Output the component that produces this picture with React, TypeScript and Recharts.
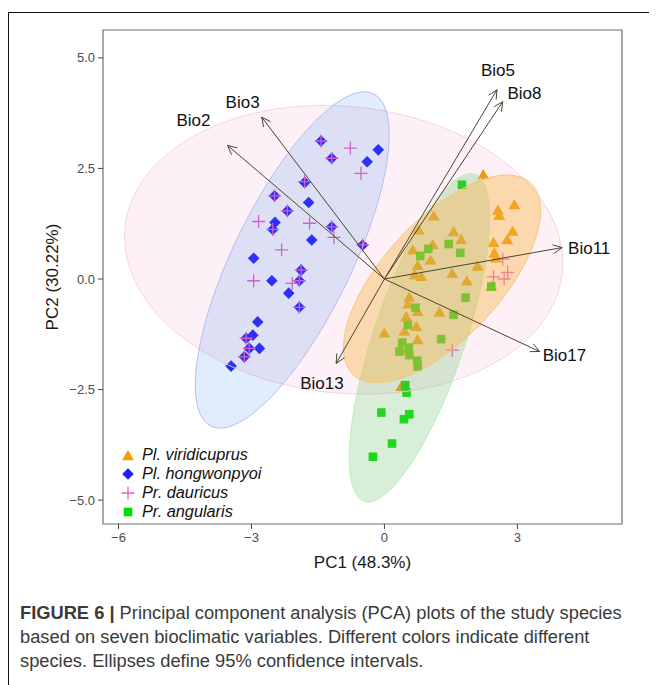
import React from 'react';
import { ScatterChart, Scatter, XAxis, YAxis, ReferenceArea } from 'recharts';

// PCA scores (PC1, PC2)
const viridicuprus = [
  { x: 2.23, y: 2.35 }, { x: 1.11, y: 1.42 }, { x: 2.56, y: 1.55 }, { x: 2.59, y: 1.43 },
  { x: 2.93, y: 1.67 }, { x: 0.77, y: 1.1 }, { x: 1.56, y: 1.06 }, { x: 1.73, y: 0.88 },
  { x: 2.89, y: 1.07 }, { x: 2.77, y: 0.88 }, { x: 2.46, y: 0.82 }, { x: 0.64, y: 0.65 },
  { x: 1.09, y: 0.77 }, { x: 1.04, y: 0.42 }, { x: 2.48, y: 0.58 }, { x: 2.52, y: 0.47 },
  { x: 0.75, y: 0.3 }, { x: 0.83, y: 0.05 }, { x: 0.68, y: 0.09 }, { x: 1.53, y: 0.12 },
  { x: 2.1, y: 0.28 }, { x: 1.86, y: -0.05 }, { x: 2.41, y: -0.17 }, { x: 0.56, y: -0.42 },
  { x: 0.53, y: -0.57 }, { x: 0.75, y: -0.74 }, { x: 1.24, y: -0.76 }, { x: 0.49, y: -0.86 },
  { x: 0.72, y: -1.08 }, { x: 0.0, y: -1.23 }, { x: 0.45, y: -1.19 }, { x: 0.75, y: -1.38 },
  { x: 0.38, y: -1.61 }, { x: 0.38, y: -2.44 },
];

const hongwonpyoi = [
  { x: -1.43, y: 3.12 }, { x: -1.19, y: 2.73 }, { x: -0.39, y: 2.65 }, { x: -0.14, y: 2.92 },
  { x: -1.8, y: 2.18 }, { x: -1.71, y: 1.73 }, { x: -2.48, y: 1.88 }, { x: -2.19, y: 1.54 },
  { x: -2.47, y: 1.28 }, { x: -2.52, y: 1.12 }, { x: -1.64, y: 0.88 }, { x: -1.19, y: 1.18 },
  { x: -0.49, y: 0.77 }, { x: -2.95, y: 0.47 }, { x: -2.54, y: -0.04 }, { x: -1.92, y: -0.04 },
  { x: -1.88, y: 0.2 }, { x: -2.16, y: -0.32 }, { x: -1.92, y: -0.64 }, { x: -2.86, y: -0.97 },
  { x: -2.97, y: -1.27 }, { x: -3.12, y: -1.34 }, { x: -3.05, y: -1.57 }, { x: -2.82, y: -1.57 },
  { x: -3.16, y: -1.76 }, { x: -3.46, y: -1.97 },
];

const dauricus = [
  { x: -1.43, y: 3.12 }, { x: -1.19, y: 2.73 }, { x: -1.8, y: 2.2 }, { x: -2.48, y: 1.88 },
  { x: -2.19, y: 1.54 }, { x: -2.52, y: 1.12 }, { x: -1.19, y: 1.18 }, { x: -0.49, y: 0.77 },
  { x: -1.92, y: -0.04 }, { x: -1.88, y: 0.2 }, { x: -1.92, y: -0.64 }, { x: -3.12, y: -1.34 },
  { x: -3.05, y: -1.57 }, { x: -3.16, y: -1.76 },
  { x: -0.77, y: 2.96 }, { x: -0.53, y: 2.39 }, { x: -2.84, y: 1.3 }, { x: -1.69, y: 1.26 },
  { x: -1.14, y: 0.94 }, { x: -2.32, y: 0.66 }, { x: -2.95, y: -0.04 }, { x: -2.08, y: -0.1 },
  { x: 2.67, y: 0.45 }, { x: 2.46, y: 0.05 }, { x: 2.78, y: 0.15 }, { x: 2.7, y: 0.0 },
  { x: 1.53, y: -1.61 },
];

const angularis = [
  { x: 1.75, y: 2.13 }, { x: 1.45, y: 0.79 }, { x: 0.99, y: 0.68 }, { x: 0.81, y: 0.52 },
  { x: 1.71, y: 0.59 }, { x: 2.41, y: -0.17 }, { x: 1.83, y: -0.42 }, { x: 0.7, y: -0.65 },
  { x: 1.56, y: -0.81 }, { x: 0.53, y: -1.04 }, { x: 1.28, y: -1.36 }, { x: 0.4, y: -1.44 },
  { x: 0.55, y: -1.55 }, { x: 0.34, y: -1.64 }, { x: 0.56, y: -1.72 }, { x: 0.74, y: -1.85 },
  { x: 0.75, y: -1.98 }, { x: 0.47, y: -2.4 }, { x: 0.5, y: -2.57 }, { x: -0.07, y: -3.02 },
  { x: 0.56, y: -3.06 }, { x: 0.44, y: -3.17 }, { x: 0.17, y: -3.72 }, { x: -0.26, y: -4.02 },
];

// 95% ellipses: centre, semi-axes and tilt (degrees)
const ellipseDauricus = { cx: -0.92, cy: 0.66, a: 4.96, b: 3.24, angle: -6 };
const ellipseHongwonpyoi = { cx: -2.08, cy: 0.43, a: 4.18, b: 1.33, angle: 64 };
const ellipseAngularis = { cx: 0.79, cy: -1.33, a: 3.9, b: 1.03, angle: 71.4 };
const ellipseViridicuprus = { cx: 1.3, cy: 0.0, a: 2.95, b: 1.33, angle: 47.4 };

// loading arrows (tips) and their label positions
const variables = ['Bio2', 'Bio3', 'Bio5', 'Bio8', 'Bio11', 'Bio13', 'Bio17'];
const arrowTips = [
  { x: -3.54, y: 3.02 }, { x: -2.77, y: 3.66 }, { x: 2.54, y: 4.28 }, { x: 2.67, y: 4.01 },
  { x: 4.01, y: 0.71 }, { x: -1.09, y: -1.91 }, { x: 3.5, y: -1.64 },
];
const labelSpots = [
  { x: -4.31, y: 3.58 }, { x: -3.2, y: 3.99 }, { x: 2.56, y: 4.71 }, { x: 3.16, y: 4.2 },
  { x: 4.62, y: 0.7 }, { x: -1.41, y: -2.36 }, { x: 4.06, y: -1.74 },
];

const xTicks = [-6, -3, 0, 3];
const yTicks = [-5, -2.5, 0, 2.5, 5];
const xDomain = [-6.35, 5.36];
const yDomain = [-5.54, 5.63];

const ORANGE = '#f2a000';
const BLUE = '#1e1eff';
const PINK = '#f25cc8';
const GREEN = '#00e000';
const ARROW = '#4a4630';

const minus = (s: string) => s.replace('-', '\u2212');

const outline = (e: { cx: number; cy: number; a: number; b: number; angle: number }) => {
  const r = (e.angle * Math.PI) / 180;
  const pts = [];
  for (let i = 0; i <= 90; i++) {
    const t = (i / 90) * Math.PI * 2;
    const u = e.a * Math.cos(t);
    const v = e.b * Math.sin(t);
    pts.push({ x: e.cx + u * Math.cos(r) - v * Math.sin(r), y: e.cy + u * Math.sin(r) + v * Math.cos(r) });
  }
  return pts;
};

const Hidden = () => <g />;

const Triangle = (p: any) => (
  <polygon
    points={`${p.cx},${p.cy - 6} ${p.cx + 6},${p.cy + 4.2} ${p.cx - 6},${p.cy + 4.2}`}
    fill={ORANGE}
  />
);
const Diamond = (p: any) => (
  <polygon
    points={`${p.cx},${p.cy - 5.8} ${p.cx + 5.8},${p.cy} ${p.cx},${p.cy + 5.8} ${p.cx - 5.8},${p.cy}`}
    fill={BLUE}
  />
);
const Plus = (p: any) => (
  <path
    d={`M${p.cx - 6.5},${p.cy}H${p.cx + 6.5}M${p.cx},${p.cy - 6.5}V${p.cy + 6.5}`}
    stroke={PINK}
    strokeWidth={1.3}
    fill="none"
  />
);
const Square = (p: any) => <rect x={p.cx - 4.3} y={p.cy - 4.3} width={8.6} height={8.6} fill={GREEN} />;

const ellipseLine = (fill: string, opacity: number, stroke: string) => (props: any) => {
  const d = props.points.map((p: any, i: number) => `${i ? 'L' : 'M'}${p.x},${p.y}`).join('') + 'Z';
  return <path d={d} fill={fill} fillOpacity={opacity} stroke={stroke} strokeWidth={1} />;
};

const arrowLine = (props: any) => {
  const [a, b] = props.points;
  const ang = Math.atan2(b.y - a.y, b.x - a.x);
  const L = 10;
  const w = Math.PI / 7;
  const h1 = `${b.x - L * Math.cos(ang - w)},${b.y - L * Math.sin(ang - w)}`;
  const h2 = `${b.x - L * Math.cos(ang + w)},${b.y - L * Math.sin(ang + w)}`;
  return (
    <g stroke={ARROW} strokeWidth={1} fill="none">
      <line x1={a.x} y1={a.y} x2={b.x} y2={b.y} />
      <polyline points={`${h1} ${b.x},${b.y} ${h2}`} />
    </g>
  );
};

const LabelText = (p: any) => (
  <text x={p.cx} y={p.cy} textAnchor="middle" dominantBaseline="central" fontSize={17} fill="#111">
    {p.payload.name}
  </text>
);

const labelData = variables.map((name, i) => ({ ...labelSpots[i], name }));

const legendItems = [
  { name: 'Pl. viridicuprus', mark: 'tri' },
  { name: 'Pl. hongwonpyoi', mark: 'dia' },
  { name: 'Pr. dauricus', mark: 'plus' },
  { name: 'Pr. angularis', mark: 'sq' },
];

const LegendMark = ({ mark }: { mark: string }) => (
  <svg width={16} height={16} style={{ display: 'block' }}>
    {mark === 'tri' && <Triangle cx={8} cy={9} />}
    {mark === 'dia' && <Diamond cx={8} cy={8} />}
    {mark === 'plus' && <Plus cx={8} cy={8} />}
    {mark === 'sq' && <Square cx={8} cy={8} />}
  </svg>
);

export default function App() {
  return (
    <div
      style={{
        position: 'relative',
        width: 649,
        height: 677,
        overflow: 'hidden',
        fontFamily: '"Liberation Sans", Arial, sans-serif',
        background: '#fff',
      }}
    >
      <div
        style={{
          position: 'absolute',
          left: 0,
          top: 4,
          right: -4,
          bottom: -4,
          borderTop: '1.5px solid #111',
          borderLeft: '1.5px solid #111',
        }}
      />
      <div style={{ position: 'absolute', left: 0, top: 0 }}>
        <ScatterChart width={649} height={590} margin={{ top: 22, right: 35, bottom: 0, left: 0 }}>
          <XAxis
            type="number"
            dataKey="x"
            domain={xDomain}
            ticks={xTicks}
            allowDataOverflow
            axisLine={false}
            tickLine={{ stroke: '#444' }}
            tickSize={5}
            tickMargin={4}
            tick={{ fill: '#4d4d4d', fontSize: 13 }}
            tickFormatter={(v: number) => minus(String(v))}
            height={74}
            label={{ value: 'PC1 (48.3%)', position: 'insideBottom', offset: 30, fill: '#1a1a1a', fontSize: 17 }}
          />
          <YAxis
            type="number"
            dataKey="y"
            domain={yDomain}
            ticks={yTicks}
            allowDataOverflow
            axisLine={false}
            tickLine={{ stroke: '#444' }}
            tickSize={5}
            tickMargin={3}
            tick={{ fill: '#4d4d4d', fontSize: 13 }}
            tickFormatter={(v: number) => minus(v.toFixed(1))}
            width={95}
            label={{
              value: 'PC2 (30.22%)',
              angle: -90,
              position: 'insideLeft',
              offset: 44,
              fill: '#1a1a1a',
              fontSize: 17,
              style: { textAnchor: 'middle' },
            }}
          />
          <ReferenceArea
            x1={xDomain[0]}
            x2={xDomain[1]}
            y1={yDomain[0]}
            y2={yDomain[1]}
            fill="none"
            stroke="#6e6e6e"
            strokeWidth={1.2}
            ifOverflow="visible"
          />

          <Scatter data={viridicuprus} shape={Triangle} isAnimationActive={false} />
          <Scatter data={hongwonpyoi} shape={Diamond} isAnimationActive={false} />
          <Scatter data={dauricus} shape={Plus} isAnimationActive={false} />
          <Scatter data={angularis} shape={Square} isAnimationActive={false} />

          <Scatter
            data={outline(ellipseDauricus)}
            shape={Hidden}
            line={ellipseLine('#eb5599', 0.09, '#fad2e6')}
            isAnimationActive={false}
          />
          <Scatter
            data={outline(ellipseHongwonpyoi)}
            shape={Hidden}
            line={ellipseLine('#1c80f2', 0.14, '#babaf2')}
            isAnimationActive={false}
          />
          <Scatter
            data={outline(ellipseAngularis)}
            shape={Hidden}
            line={ellipseLine('#70c070', 0.27, '#b6f0b6')}
            isAnimationActive={false}
          />
          <Scatter
            data={outline(ellipseViridicuprus)}
            shape={Hidden}
            line={ellipseLine('#fbb444', 0.4, '#f7c67c')}
            isAnimationActive={false}
          />

          {arrowTips.map((tip, i) => (
            <Scatter
              key={variables[i]}
              data={[{ x: 0, y: 0 }, tip]}
              shape={Hidden}
              line={arrowLine}
              isAnimationActive={false}
            />
          ))}
          <Scatter data={labelData} shape={LabelText} isAnimationActive={false} />
        </ScatterChart>
      </div>

      <div style={{ position: 'absolute', left: 112, top: 437 }}>
        {legendItems.map((it) => (
          <div key={it.name} style={{ display: 'flex', alignItems: 'center', height: 19 }}>
            <LegendMark mark={it.mark} />
            <span style={{ marginLeft: 6, fontStyle: 'italic', fontSize: 16.3, color: '#111' }}>{it.name}</span>
          </div>
        ))}
      </div>

      <div
        style={{
          position: 'absolute',
          left: 12,
          top: 593,
          fontSize: 18.3,
          lineHeight: '24px',
          color: '#3a3a3a',
          whiteSpace: 'nowrap',
        }}
      >
        <div>
          <b>FIGURE 6 |</b> Principal component analysis (PCA) plots of the study species
        </div>
        <div>based on seven bioclimatic variables. Different colors indicate different</div>
        <div>species. Ellipses define 95% confidence intervals.</div>
      </div>
    </div>
  );
}
